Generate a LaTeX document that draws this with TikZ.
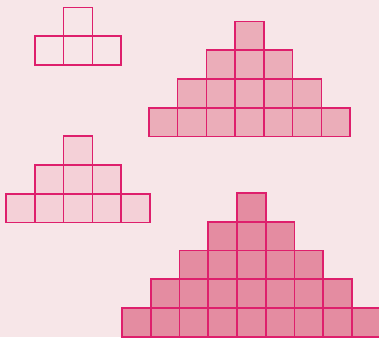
\documentclass[tikz,border=0pt]{standalone}
\definecolor{bg}{HTML}{F7E6E8}
\definecolor{edge}{HTML}{DE1F6C}
\definecolor{fillA}{HTML}{EBADB9}
\definecolor{fillB}{HTML}{F4D0D7}
\definecolor{fillC}{HTML}{E48CA1}
\newcommand\drawpyr[4]{%
  \pgfmathtruncatemacro\lastrow{#3-1}%
  \foreach \r in {0,...,\lastrow}{%
    \foreach \k in {-\r,...,\r}{%
      \fill[#4] ({#1+(\k-0.5)*28.75},{#2+\r*28.75}) rectangle ({#1+(\k+0.5)*28.75},{#2+(\r+1)*28.75});
    }%
  }%
  \foreach \r in {0,...,\lastrow}{%
    \foreach \k in {-\r,...,\r}{%
      \draw[cell] ({#1+(\k-0.5)*28.75},{#2+\r*28.75}) rectangle ({#1+(\k+0.5)*28.75},{#2+(\r+1)*28.75});
    }%
  }%
}
\begin{document}
\begin{tikzpicture}[x=1pt,y=-1pt, cell/.style={draw=edge, line width=1.7pt}]
\fill[bg] (0,0) rectangle (379,337);
\useasboundingbox (0,0) rectangle (379,337);
\drawpyr{78}{7.5}{2}{bg}
\drawpyr{249.5}{21.5}{4}{fillA}
\drawpyr{78}{136.3}{3}{fillB}
\drawpyr{251.4}{193}{5}{fillC}
\end{tikzpicture}
\end{document}
